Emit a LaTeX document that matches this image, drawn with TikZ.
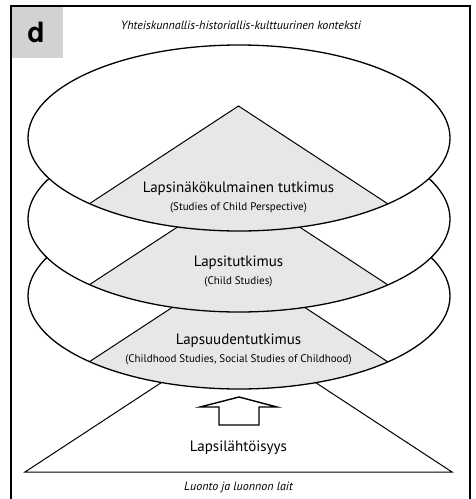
\documentclass[tikz,border=0pt]{standalone}
\usepackage{fontspec}
\setmainfont{PT Sans}
\newfontfamily\dfont{TeX Gyre Heros}
\definecolor{boxgray}{HTML}{D1D2D3}
\definecolor{regiongray}{HTML}{E6E7E8}
\begin{document}
\begin{tikzpicture}[x=1pt,y=-1pt,
  ring/.style={line width=1.3pt,draw=black},
  side/.style={line width=1pt,draw=black},
  mainlbl/.style={font=\fontsize{15}{17}\selectfont,inner sep=0pt},
  sublbl/.style={font=\fontsize{11}{12}\selectfont,inner sep=0pt},
  itlbl/.style={font=\fontsize{12}{13}\selectfont\itshape,inner sep=0pt}]
\useasboundingbox (0,0) rectangle (475,499);
% bottom white triangle
\coordinate (bl) at (25,472);
\coordinate (br) at (452,472);
\coordinate (bapex) at (238.5,332);
\draw[side,fill=white] (bl) -- (br) -- (bapex) -- cycle;
% three levels, drawn bottom to top
\foreach \cy/\ay in {296/264, 219/187, 138/106} {
  \fill[white] (239,\cy) ellipse [x radius=211pt, y radius=93pt];
  \begin{scope}
    \clip (239,\cy) ellipse [x radius=211pt, y radius=93pt];
    \fill[regiongray] (238.5,\ay) -- (238.5-1.526*250,\ay+250) -- (238.5+1.526*250,\ay+250) -- cycle;
    \draw[side] (238.5-1.526*250,\ay+250) -- (238.5,\ay) -- (238.5+1.526*250,\ay+250);
  \end{scope}
  \draw[ring] (239,\cy) ellipse [x radius=211pt, y radius=93pt];
}
% arrow
\draw[line width=1.4pt,fill=white] (239,397) -- (277,407) -- (259,407) -- (259,425) -- (219,425) -- (219,407) -- (200,407) -- cycle;
% frame and label box
\fill[boxgray] (11,6) rectangle (63,58);
\draw[line width=1.5pt] (11,499) -- (11,6) -- (470,6) -- (470,499);
\node[font=\dfont\bfseries\fontsize{28}{29}\selectfont,inner sep=0pt] (d) at (36,32) {d};
% texts
\node[itlbl] (ctx) at (241,25) {Yhteiskunnallis-historiallis-kulttuurinen konteksti};
\node[mainlbl] (l1) at (238.5,189) {Lapsinäkökulmainen tutkimus};
\node[sublbl] (s1) at (238.5,208) {(Studies of Child Perspective)};
\node[mainlbl] (l2) at (238.5,263) {Lapsitutkimus};
\node[sublbl] (s2) at (238.5,282) {(Child Studies)};
\node[mainlbl] (l3) at (238.5,341) {Lapsuudentutkimus};
\node[sublbl] (s3) at (238.5,360) {(Childhood Studies, Social Studies of Childhood)};
\node[mainlbl] (l4) at (238.5,448) {Lapsilähtöisyys};
\node[itlbl] (nat) at (238.5,487) {Luonto ja luonnon lait};
\end{tikzpicture}
\end{document}
